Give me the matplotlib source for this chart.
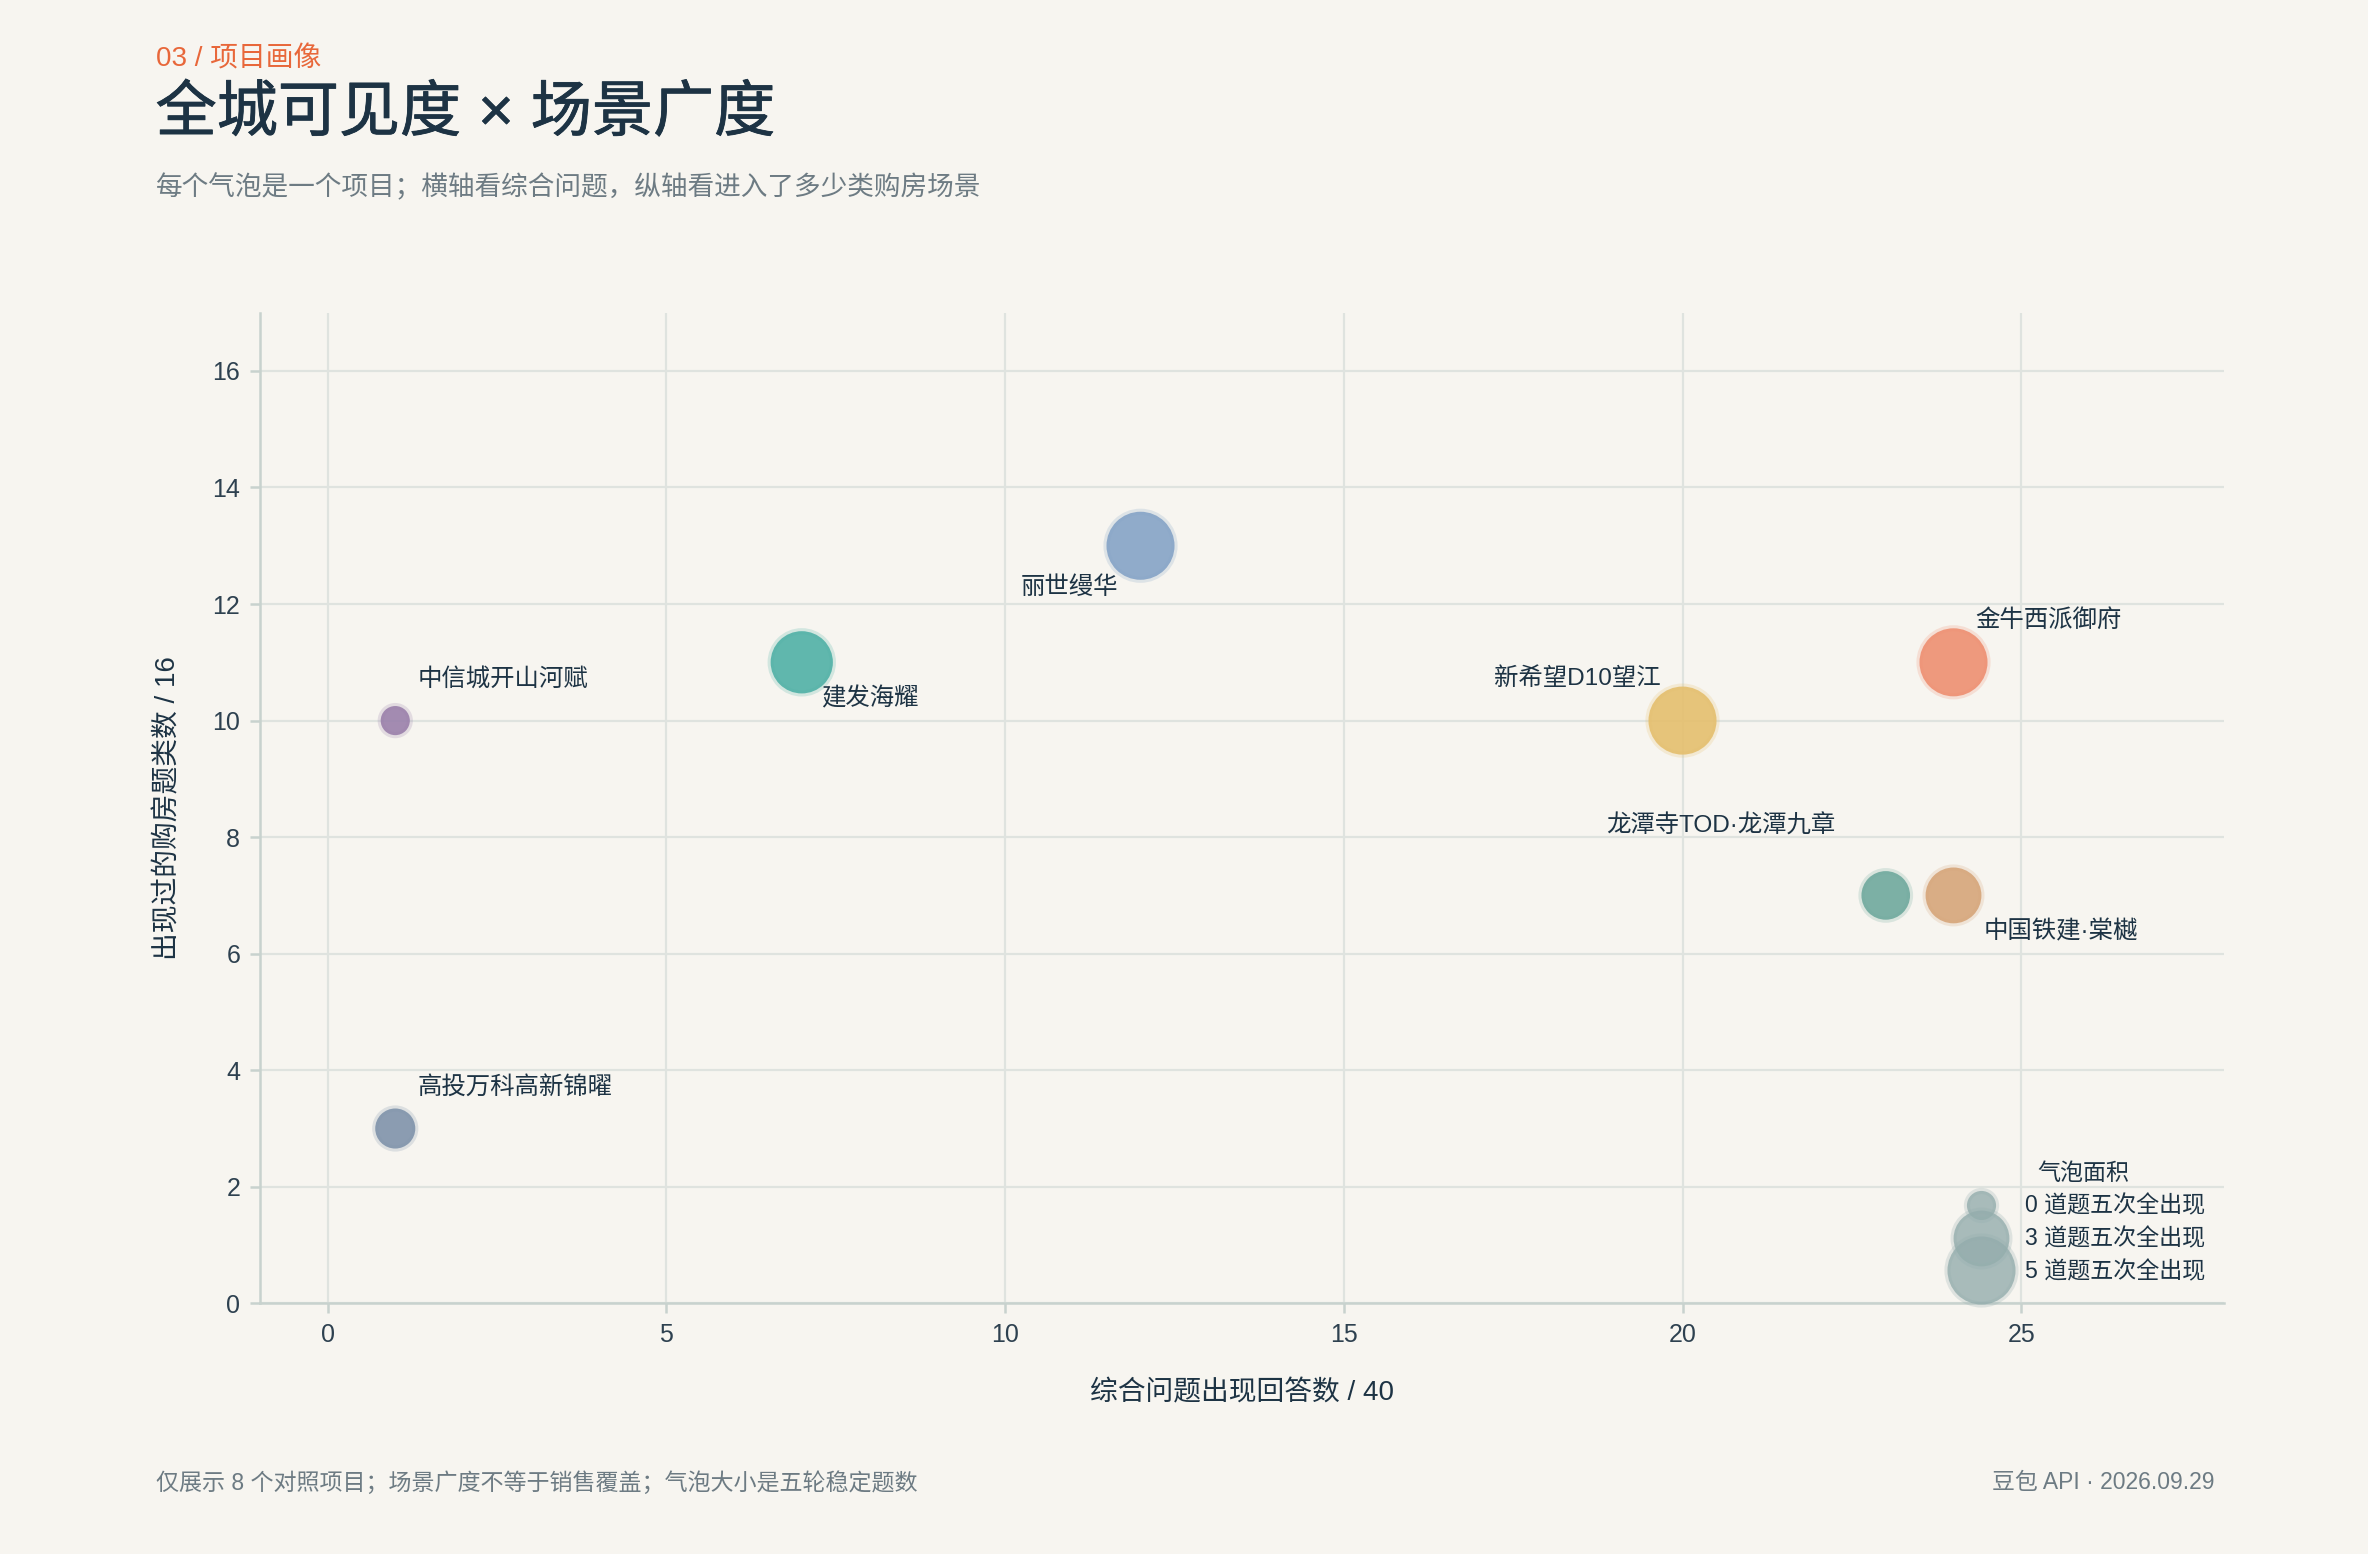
import matplotlib
matplotlib.use('Agg')
import matplotlib.pyplot as plt
import matplotlib.patheffects as pe
from matplotlib.lines import Line2D

plt.rcParams['font.family'] = ['Liberation Sans', 'Noto Sans CJK SC', 'DejaVu Sans']
plt.rcParams['axes.unicode_minus'] = False

# data: one bubble per project
projects = ['中信城开山河赋', '高投万科高新锦曜', '建发海耀', '丽世缦华',
            '新希望D10望江', '金牛西派御府', '龙潭寺TOD·龙潭九章', '中国铁建·棠樾']
answers_hit = [1, 1, 7, 12, 20, 24, 23, 24]      # x: 综合问题出现回答数 / 40
scene_types = [10, 3, 11, 13, 10, 11, 7, 7]       # y: 出现过的购房题类数 / 16
stable_questions = [0, 1, 4, 5, 5, 5, 2, 3]       # bubble size: 五轮稳定题数
colors = ['#9a80ab', '#7f93ab', '#4fb1a6', '#85a3c6',
          '#e5bf6d', '#ee8f71', '#6fa99d', '#d6a57a']

legend_values = [0, 3, 5]

# label offsets in points (dx, dy, ha)
label_offsets = [(8, 15, 'left'), (8, 15, 'left'), (7, -13, 'left'), (-8, -15, 'right'),
                 (-8, 15, 'right'), (8, 15, 'left'), (-18, 25, 'right'), (11, -13, 'left')]

BG = '#f7f5f0'
INK = '#1d3344'
MUTED = '#6d7b83'
GRID = '#dfe3df'


def bubble_size(n):
    return 110 + 98 * n


def rgba(hex_color, a):
    c = matplotlib.colors.to_rgb(hex_color)
    return (c[0], c[1], c[2], a)


fig = plt.figure(figsize=(11.84, 7.77), dpi=200, facecolor=BG)
ax = fig.add_axes([0.1097, 0.1613, 0.8297, 0.6375], facecolor=BG)

ax.scatter(answers_hit, scene_types,
           s=[bubble_size(n) for n in stable_questions],
           c=[rgba(c, 0.9) for c in colors],
           edgecolors=[rgba(c, 0.22) for c in colors],
           linewidths=2.2, zorder=3)

for name, x, y, (dx, dy, ha) in zip(projects, answers_hit, scene_types, label_offsets):
    ax.annotate(name, (x, y), xytext=(dx, dy), textcoords='offset points',
                ha=ha, va='center', fontsize=8.8, color=INK, zorder=4)

ax.set_xlim(-1, 28)
ax.set_ylim(0, 17)
ax.set_xticks(range(0, 26, 5))
ax.set_yticks(range(0, 17, 2))
ax.grid(True, color=GRID, linewidth=0.8, zorder=0)
ax.set_axisbelow(True)
for side in ['top', 'right']:
    ax.spines[side].set_visible(False)
for side in ['left', 'bottom']:
    ax.spines[side].set_color('#c8d2ce')
    ax.spines[side].set_linewidth(0.9)
ax.tick_params(colors='#c8d2ce', labelcolor='#2e4150', labelsize=9, length=3.5, width=0.9)

ax.set_xlabel('综合问题出现回答数 / 40', fontsize=10, color=INK, labelpad=12)
ax.set_ylabel('出现过的购房题类数 / 16', fontsize=10, color=INK, labelpad=11)

# size legend
handles = [Line2D([], [], linestyle='none', marker='o',
                  markersize=bubble_size(v) ** 0.5,
                  markerfacecolor=rgba('#94adad', 0.8),
                  markeredgecolor=rgba('#94adad', 0.25), markeredgewidth=2.2,
                  label=f'{v} 道题五次全出现') for v in legend_values]
leg = ax.legend(handles=handles, loc='lower right', frameon=False, title='气泡面积',
                fontsize=8.3, title_fontsize=8.3, labelspacing=0.43,
                handlelength=1.6, handletextpad=1.1,
                bbox_to_anchor=(0.990, 0.02), borderaxespad=0, borderpad=0)
for t in leg.get_texts():
    t.set_color(INK)
leg.get_title().set_color(INK)

# header and footer
fig.text(0.0657, 0.962, '03 / 项目画像', fontsize=10, color='#e8673a', va='center')
fig.text(0.0657, 0.926, '全城可见度 × 场景广度', fontsize=22, color=INK, va='center',
         path_effects=[pe.withStroke(linewidth=0.3, foreground=INK)])
fig.text(0.0657, 0.879, '每个气泡是一个项目；横轴看综合问题，纵轴看进入了多少类购房场景',
         fontsize=9.6, color=MUTED, va='center')
fig.text(0.0657, 0.0457, '仅展示 8 个对照项目；场景广度不等于销售覆盖；气泡大小是五轮稳定题数',
         fontsize=8.3, color=MUTED, va='center')
fig.text(0.935, 0.0457, '豆包 API · 2026.09.29', fontsize=8.25, color=MUTED,
         va='center', ha='right')

fig.savefig('out.png', dpi=200, facecolor=BG)
